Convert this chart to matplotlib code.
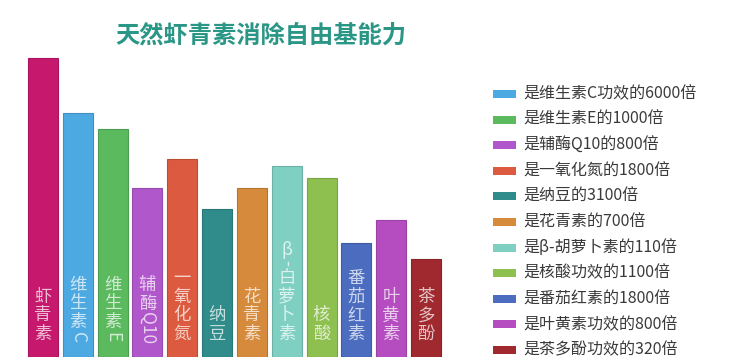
import matplotlib
matplotlib.use("Agg")
import matplotlib.pyplot as plt
from matplotlib.patches import Rectangle
from matplotlib.colors import to_rgb

plt.rcParams['font.family'] = ['Noto Sans CJK SC', 'DejaVu Sans']

# Datos
categorias = ['虾青素', '维生素C', '维生素E', '辅酶Q10', '一氧化氮', '纳豆',
              '花青素', 'β-白萝卜素', '核酸', '番茄红素', '叶黄素', '茶多酚']
valores = [299, 244, 228, 169, 198, 148, 169, 191, 179, 114, 137, 98]
colores = ['#C6196E', '#4DA9E2', '#5BB95E', '#B058CB', '#DC5B40', '#2F8C8A',
           '#D68B3C', '#7FD0C2', '#8EC050', '#4B6CBF', '#B54DC0', '#A0292F']
leyenda = ['是维生素C功效的6000倍', '是维生素E的1000倍', '是辅酶Q10的800倍',
           '是一氧化氮的1800倍', '是纳豆的3100倍', '是花青素的700倍',
           '是β-胡萝卜素的110倍', '是核酸功效的1100倍', '是番茄红素的1800倍',
           '是叶黄素功效的800倍', '是茶多酚功效的320倍']
titulo = '天然虾青素消除自由基能力'

W, H = 730, 364


def mezclar(c, f):
    r, g, b = to_rgb(c)
    return (r + (1 - r) * f, g + (1 - g) * f, b + (1 - b) * f)


def oscurecer(c, f=0.85):
    r, g, b = to_rgb(c)
    return (r * f, g * f, b * f)


def tokens(texto):
    """Separa el texto en caracteres CJK y tramos latinos (que van rotados)"""
    out = []
    buf = ''
    for ch in texto:
        if ch.isascii():
            buf += ch
        else:
            if buf:
                out.append((buf, True))
                buf = ''
            out.append((ch, False))
    if buf:
        out.append((buf, True))
    return out


fig = plt.figure(figsize=(W / 100, H / 100), dpi=100)
ax = fig.add_axes([25.6 / W, 7 / H, 417.8 / W, 300 / H])
ax.set_xlim(-0.5, 11.5)
ax.set_ylim(0, 300)
ax.axis('off')

x = list(range(len(categorias)))
ax.bar(x, valores, width=0.86, color=colores,
       edgecolor=[oscurecer(c) for c in colores], linewidth=0.8)

# Etiquetas verticales dentro de las barras
for i, cat in enumerate(categorias):
    col = mezclar(colores[i], 0.72)
    y = 14
    for tok, latino in reversed(tokens(cat)):
        if latino:
            h = 9 * len(tok) + 3
            ax.text(i, y + h / 2, tok, rotation=-90, ha='center', va='center',
                    fontsize=12.5, color=col)
        else:
            h = 14 if tok == 'β' else 18.5
            ax.text(i, y + h / 2, tok, ha='center', va='center',
                    fontsize=12.5, color=col)
        y += h

# Titulo
fig.text(261 / W, 1 - 36 / H, titulo, ha='center', va='center',
         fontsize=17.5, fontweight='bold', color='#2A9686')

# Leyenda manual
for k, lab in enumerate(leyenda):
    yc = 94 + k * 25.6
    fig.add_artist(Rectangle((493 / W, 1 - (yc + 4) / H), 23 / W, 8 / H,
                             transform=fig.transFigure,
                             facecolor=colores[k + 1], edgecolor='none'))
    fig.text(523 / W, 1 - yc / H, lab, ha='left', va='center',
             fontsize=11.5, color='#3A3A3A')

fig.savefig('out.png', dpi=100)
plt.close()
